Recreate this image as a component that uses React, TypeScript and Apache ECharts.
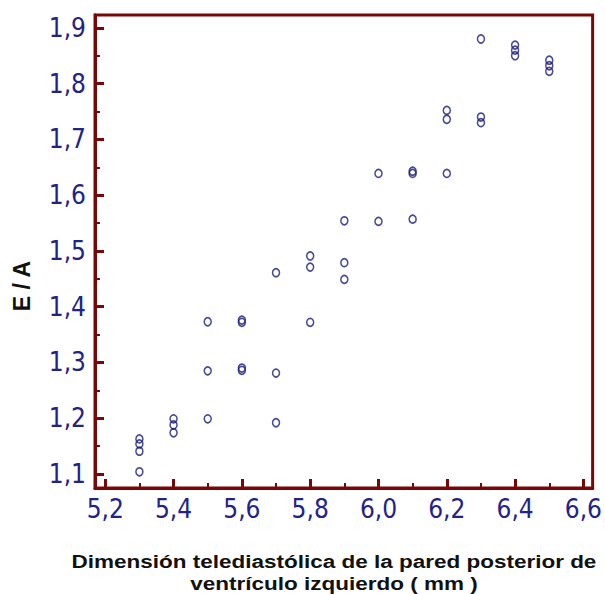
import React, { useEffect, useRef } from "react";
import * as echarts from "echarts";

// Wall thickness groups (mm) and the E/A ratios measured in each group
const wallThickness = [5.3, 5.4, 5.5, 5.6, 5.7, 5.8, 5.9, 6.0, 6.1, 6.2, 6.3, 6.4, 6.5];
const eaRatios = [
  [1.163, 1.154, 1.141, 1.104],
  [1.199, 1.188, 1.174],
  [1.373, 1.285, 1.199],
  [1.376, 1.372, 1.29, 1.286],
  [1.461, 1.281, 1.192],
  [1.491, 1.471, 1.372],
  [1.554, 1.479, 1.449],
  [1.639, 1.553],
  [1.643, 1.639, 1.557],
  [1.752, 1.736, 1.639],
  [1.88, 1.74, 1.73],
  [1.869, 1.86, 1.85],
  [1.842, 1.832, 1.822],
];

const xMajorTicks = [5.2, 5.4, 5.6, 5.8, 6.0, 6.2, 6.4, 6.6];
const xMinorTicks = [5.3, 5.5, 5.7, 5.9, 6.1, 6.3, 6.5];
const yMajorTicks = [1.1, 1.2, 1.3, 1.4, 1.5, 1.6, 1.7, 1.8, 1.9];
const yMinorTicks = [1.15, 1.25, 1.35, 1.45, 1.55, 1.65, 1.75, 1.85];

const X_MIN = 5.17;
const X_MAX = 6.627;
const Y_MIN = 1.075;
const Y_MAX = 1.923;

const AXIS_COLOR = "#780808";
const LABEL_COLOR = "#22228a";
const POINT_COLOR = "#1c1c80";
const NARROW = "'Liberation Sans Narrow', 'Arial Narrow', 'DejaVu Sans Condensed', sans-serif";
const SANS = "'Liberation Sans', Arial, sans-serif";

const comma = (v: number) => v.toFixed(1).replace(".", ",");

export default function App() {
  const ref = useRef<HTMLDivElement>(null);

  useEffect(() => {
    if (!ref.current) return;
    const chart = echarts.init(ref.current, undefined, { renderer: "svg" });

    const points: number[][] = [];
    wallThickness.forEach((x, i) => {
      eaRatios[i].forEach((y) => points.push([x, y]));
    });

    const majorX = {
      type: "value" as const,
      min: X_MIN,
      max: X_MAX,
      position: "bottom" as const,
      axisLine: { show: true, lineStyle: { color: AXIS_COLOR, width: 3 } },
      axisTick: {
        show: true,
        inside: true,
        length: 9,
        customValues: xMajorTicks,
        lineStyle: { color: AXIS_COLOR, width: 3 },
      },
      axisLabel: {
        customValues: xMajorTicks,
        formatter: (v: number) => comma(v),
        color: LABEL_COLOR,
        fontSize: 26,
        fontFamily: NARROW,
        margin: 8,
      },
      splitLine: { show: false },
    };
    const minorX = {
      type: "value" as const,
      min: X_MIN,
      max: X_MAX,
      position: "bottom" as const,
      axisLine: { show: false },
      axisTick: {
        show: true,
        inside: true,
        length: 5,
        customValues: xMinorTicks,
        lineStyle: { color: AXIS_COLOR, width: 2 },
      },
      axisLabel: { show: false },
      splitLine: { show: false },
    };
    const majorY = {
      type: "value" as const,
      min: Y_MIN,
      max: Y_MAX,
      position: "left" as const,
      axisLine: { show: true, lineStyle: { color: AXIS_COLOR, width: 3 } },
      axisTick: {
        show: true,
        inside: true,
        length: 9,
        customValues: yMajorTicks,
        lineStyle: { color: AXIS_COLOR, width: 3 },
      },
      axisLabel: {
        customValues: yMajorTicks,
        formatter: (v: number) => comma(v),
        color: LABEL_COLOR,
        fontSize: 26,
        fontFamily: NARROW,
        margin: 9,
      },
      splitLine: { show: false },
    };
    const minorY = {
      type: "value" as const,
      min: Y_MIN,
      max: Y_MAX,
      position: "left" as const,
      axisLine: { show: false },
      axisTick: {
        show: true,
        inside: true,
        length: 5,
        customValues: yMinorTicks,
        lineStyle: { color: AXIS_COLOR, width: 2 },
      },
      axisLabel: { show: false },
      splitLine: { show: false },
    };

    chart.setOption({
      animation: false,
      backgroundColor: "#ffffff",
      grid: {
        left: 95,
        right: 5.5,
        top: 15,
        bottom: 106,
        show: true,
        borderColor: AXIS_COLOR,
        borderWidth: 3,
        backgroundColor: "transparent",
      },
      xAxis: [majorX, minorX],
      yAxis: [majorY, minorY],
      series: [
        {
          type: "scatter",
          xAxisIndex: 0,
          yAxisIndex: 0,
          data: points,
          symbol: "circle",
          symbolSize: [7, 8],
          itemStyle: {
            color: "rgba(0,0,0,0)",
            borderColor: POINT_COLOR,
            borderWidth: 1.6,
          },
        },
      ],
      graphic: [
        {
          type: "text",
          x: 22,
          y: 286,
          rotation: Math.PI / 2,
          style: {
            text: "E / A",
            fontSize: 23,
            fontWeight: "bold",
            fontFamily: SANS,
            fill: "#111111",
            align: "center",
            verticalAlign: "middle",
          },
        },
        {
          type: "text",
          x: 334,
          y: 573,
          scaleX: 1.25,
          style: {
            text: "Dimensión telediastólica de la pared posterior de\nventrículo izquierdo ( mm )",
            fontSize: 18,
            lineHeight: 22,
            fontWeight: "bold",
            fontFamily: SANS,
            fill: "#111111",
            align: "center",
            verticalAlign: "middle",
          },
        },
      ],
    });

    return () => chart.dispose();
  }, []);

  return (
    <div
      ref={ref}
      style={{ position: "fixed", left: 0, top: 0, width: 605, height: 594 }}
    />
  );
}
